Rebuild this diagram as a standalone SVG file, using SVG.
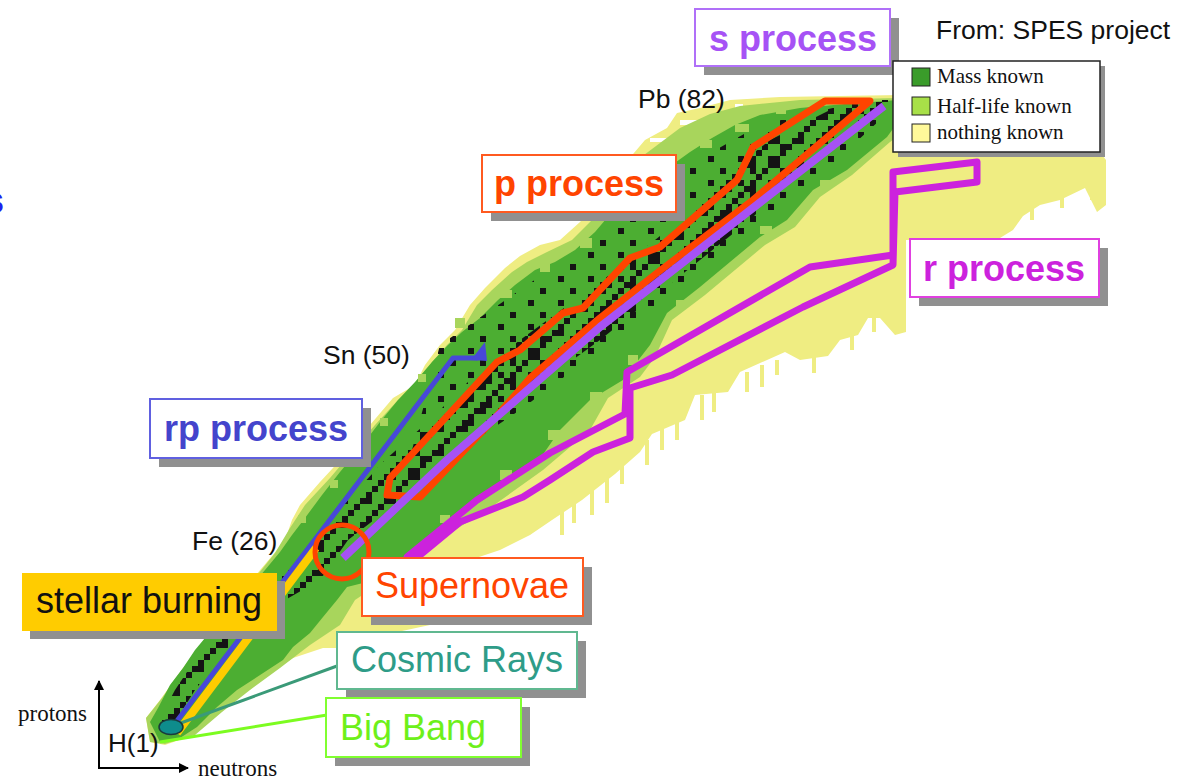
<svg xmlns="http://www.w3.org/2000/svg" width="1191" height="779" viewBox="0 0 1191 779">
<defs>
<style>
.sans{font-family:"Liberation Sans",Arial,sans-serif}
.serif{font-family:"Liberation Serif","Times New Roman",serif}
.big{font-size:36px}
.bold{font-weight:bold}
.lab{font-size:26.5px;fill:#111}
.shadow{fill:#909090}
.box{fill:#fff;stroke-width:2}
.leg{font-size:21px;fill:#111}
.lg{fill:#a8d55c}
.gr{fill:#4cae32}
</style>
<pattern id="stab" width="24" height="24" patternUnits="userSpaceOnUse">
<rect x="0" y="18" width="12" height="6" fill="#141414"/>
<rect x="6" y="12" width="6" height="6" fill="#141414"/>
<rect x="18" y="0" width="6" height="6" fill="#141414"/>
<rect x="12" y="6" width="6" height="6" fill="#141414"/>
</pattern>
<pattern id="sparse" width="30" height="24" patternUnits="userSpaceOnUse">
<rect x="0" y="0" width="6" height="6" fill="#141414"/>
<rect x="18" y="12" width="6" height="6" fill="#141414"/>
</pattern>
<marker id="ah" viewBox="0 0 10 10" refX="9" refY="5" markerWidth="5" markerHeight="5" orient="auto">
<path d="M0,0 L10,5 L0,10 Z" fill="#000"/>
</marker>
</defs>
<rect width="1191" height="779" fill="#fff"/>

<g id="chart">
<polygon fill="#efed82" points="150,742 146,718 160,700 180,672 200,645 225,612 250,582 272,556 285,540 292,520 300,505 320,482 345,455 370,425 393,398 415,385 425,365 440,345 455,330 470,305 485,288 505,268 520,256 540,245 560,240 580,222 595,205 610,180 628,160 645,140 667,128 677,113 700,108 730,100 780,97 900,95 900,152 1100,152 1106,160 1106,205 1097,212 1085,188 1060,200 1040,205 1023,216 1013,230 1000,238 906,240 906,332 895,335 880,318 868,318 858,335 840,340 828,356 800,360 785,352 740,372 728,392 695,395 685,420 652,434 640,452 615,474 582,500 552,520 530,535 500,550 470,560 480,600 430,625 360,640 340,648 323,648 293,658 262,678 232,703 205,722 185,738 165,745"/>
<g fill="#efed82">
<rect x="560" y="505" width="4" height="30"/><rect x="572" y="498" width="4" height="25"/><rect x="590" y="485" width="4" height="30"/><rect x="605" y="475" width="4" height="28"/><rect x="620" y="462" width="4" height="22"/><rect x="645" y="440" width="4" height="25"/><rect x="660" y="428" width="4" height="22"/><rect x="675" y="420" width="4" height="20"/><rect x="700" y="395" width="4" height="25"/><rect x="712" y="392" width="4" height="20"/><rect x="745" y="372" width="4" height="20"/><rect x="760" y="365" width="4" height="22"/><rect x="775" y="360" width="4" height="15"/><rect x="812" y="355" width="4" height="18"/><rect x="850" y="335" width="4" height="15"/><rect x="872" y="318" width="4" height="14"/>
<rect x="1030" y="196" width="4" height="24"/><rect x="1060" y="186" width="4" height="22"/><rect x="1090" y="170" width="4" height="30"/>
</g>
<g fill="#fff">
<rect x="680" y="120" width="50" height="5"/><rect x="650" y="138" width="40" height="4"/><rect x="735" y="104" width="8" height="4"/>
</g>
<polygon class="lg" points="150,742 146,718 162,698 182,670 205,640 230,608 255,578 275,553 290,528 305,505 330,478 352,452 375,425 398,400 420,385 432,362 447,345 462,330 477,305 492,290 512,272 527,262 547,252 572,240 592,220 607,195 622,175 640,158 660,143 680,128 710,114 740,106 800,100 900,98 900,135 890,142 852,175 820,197 795,227 765,245 705,295 672,320 655,357 640,377 608,398 590,430 543,470 490,508 455,530 425,552 400,570 355,600 340,625 310,645 280,668 250,690 222,712 195,735 165,744"/>
<polygon class="gr" points="150,722 158,708 170,685 183,668 195,650 210,632 228,612 248,590 265,570 280,552 292,535 305,518 322,495 340,472 360,448 380,422 398,400 415,382 432,362 448,345 462,332 480,318 498,300 515,285 535,270 555,262 575,250 595,232 612,212 630,195 648,182 665,170 690,152 712,138 735,125 760,115 800,108 845,104 898,100 898,122 887,137 847,170 813,190 787,220 760,237 700,287 667,313 650,345 623,380 590,400 560,430 537,463 483,500 455,518 430,540 405,560 375,580 347,587 337,600 323,617 310,633 293,647 283,660 257,677 237,690 217,707 197,727 180,738 160,742"/>
<g class="lg">
<rect x="455" y="318" width="10" height="10"/><rect x="500" y="290" width="12" height="8"/><rect x="540" y="262" width="10" height="10"/><rect x="580" y="238" width="12" height="10"/><rect x="625" y="196" width="10" height="12"/><rect x="660" y="170" width="14" height="8"/><rect x="700" y="140" width="12" height="8"/><rect x="735" y="124" width="14" height="8"/><rect x="776" y="108" width="10" height="6"/>
<rect x="418" y="374" width="8" height="8"/><rect x="380" y="418" width="8" height="8"/><rect x="330" y="480" width="8" height="8"/><rect x="298" y="515" width="8" height="8"/><rect x="256" y="575" width="8" height="8"/>
<rect x="548" y="430" width="12" height="10"/><rect x="590" y="392" width="12" height="8"/><rect x="628" y="355" width="10" height="10"/><rect x="676" y="300" width="12" height="8"/><rect x="760" y="226" width="12" height="8"/><rect x="820" y="180" width="10" height="8"/><rect x="500" y="470" width="12" height="10"/><rect x="440" y="515" width="10" height="8"/>
</g>
<polygon fill="url(#sparse)" points="440,345 520,290 600,235 680,170 760,125 850,104 880,120 820,175 760,228 700,276 640,320 580,365 520,410 460,450 400,495"/>
<polygon fill="url(#stab)" points="158,722 175,690 195,660 225,620 278,580 313,540 348,500 385,460 430,420 470,380 520,340 575,300 630,260 680,220 720,180 770,140 830,110 860,100 895,100 880,110 835,140 790,180 750,220 700,260 650,300 600,340 545,380 490,420 440,460 400,500 348,540 320,580 250,620 218,660 195,690 175,722"/>
<text class="sans lab" x="638" y="108">Pb (82)</text>
<text class="sans lab" x="323" y="364">Sn (50)</text>
<text class="sans lab" x="192" y="550">Fe (26)</text>
</g>

<g id="connectors" fill="none" stroke-linejoin="round">
<path d="M407,557 L477,500 L550,453 L625,414 L627,372 L810,267 L893,255 L893,172 L977,162 L977,182 L895,192 L893,265 L803,307 L672,375 L630,388 L630,438 L593,452 L550,480 L523,497 L460,522 L420,555 Z" stroke="#cc22dd" stroke-width="7"/>
<path d="M387,495 L390,478 L497,362 L520,350 L563,313 L583,308 L630,258 L660,247 L737,180 L753,147 L825,101 L870,101 L753,200 L657,273 L600,318 L530,378 L493,420 L420,497 Z" stroke="#ff4400" stroke-width="7"/>
<path d="M343,558 L447,460 L600,327 L884,106" stroke="#a652f5" stroke-width="8"/>
<path d="M167,734 L453,358 L478,358" stroke="#4848d8" stroke-width="5"/>
<polygon points="471,360 485,342 487,361" fill="#4848d8"/>
<path d="M177,733 L316,548" stroke="#ffcc00" stroke-width="8"/>
<circle cx="342" cy="552" r="27" stroke="#ff4400" stroke-width="5"/>
<path d="M178,724 L337,666" stroke="#3a9a78" stroke-width="3"/>
<path d="M160,742 L327,715" stroke="#7cfc20" stroke-width="3"/>
<path d="M99,769 L99,681" stroke="#000" stroke-width="2" marker-end="url(#ah)"/>
<path d="M98,768 L188,768" stroke="#000" stroke-width="2" marker-end="url(#ah)"/>
</g>

<g id="hydrogen">
<ellipse cx="171" cy="727" rx="12" ry="7.5" fill="#0e8c8c" stroke="#1a3a3a" stroke-width="1.5"/>
<text class="sans" x="108" y="752" font-size="26" fill="#111">H(1)</text>
</g>

<g id="axes">
<text class="serif" x="18" y="721" font-size="23" fill="#111">protons</text>
<text class="serif" x="198" y="776" font-size="23" fill="#111">neutrons</text>
</g>

<g id="s-process">
<rect class="shadow" x="704" y="18" width="195" height="57"/>
<rect class="box" x="695" y="9" width="195" height="57" stroke="#b070f8"/>
<text class="sans big bold" x="793" y="51" text-anchor="middle" fill="#a652f5">s process</text>
</g>

<g id="p-process">
<rect class="shadow" x="491" y="164" width="194" height="57"/>
<rect class="box" x="482" y="155" width="194" height="57" stroke="#ff5a20"/>
<text class="sans big bold" x="579" y="196" text-anchor="middle" fill="#ff4400">p process</text>
</g>

<g id="r-process">
<rect class="shadow" x="919" y="248" width="189" height="58"/>
<rect class="box" x="910" y="239" width="189" height="58" stroke="#e040e0"/>
<text class="sans big bold" x="1004" y="281" text-anchor="middle" fill="#cc22dd">r process</text>
</g>

<g id="rp-process">
<rect class="shadow" x="159" y="408" width="212" height="59"/>
<rect class="box" x="150" y="399" width="212" height="59" stroke="#6060e0"/>
<text class="sans big bold" x="256" y="441" text-anchor="middle" fill="#4444cc">rp process</text>
</g>

<g id="stellar-burning">
<rect class="shadow" x="30" y="581" width="255" height="58"/>
<rect x="22" y="573" width="255" height="58" fill="#ffcc00"/>
<text class="sans big" x="149" y="613" text-anchor="middle" fill="#111">stellar burning</text>
</g>

<g id="supernovae">
<rect class="shadow" x="371" y="567" width="221" height="58"/>
<rect class="box" x="362" y="558" width="221" height="58" stroke="#ff5a20"/>
<text class="sans big" x="472" y="598" text-anchor="middle" fill="#ff4400">Supernovae</text>
</g>

<g id="cosmic-rays">
<rect class="shadow" x="346" y="641" width="240" height="57"/>
<rect class="box" x="337" y="632" width="240" height="57" stroke="#60b890"/>
<text class="sans big" x="457" y="672" text-anchor="middle" fill="#2e9c88">Cosmic Rays</text>
</g>

<g id="big-bang">
<rect class="shadow" x="335" y="707" width="195" height="59"/>
<rect class="box" x="326" y="698" width="195" height="59" stroke="#80ff30"/>
<text class="sans big" x="413" y="740" text-anchor="middle" fill="#6ef01a">Big Bang</text>
</g>

<g id="legend">
<rect class="shadow" x="898" y="66" width="207" height="91"/>
<rect x="893" y="61" width="207" height="91" fill="#fff" stroke="#222" stroke-width="1.5"/>
<rect x="912" y="68" width="18" height="18" fill="#3a9c2a" stroke="#222" stroke-width="1"/>
<rect x="912" y="97" width="18" height="18" fill="#a8e048" stroke="#222" stroke-width="1"/>
<rect x="912" y="124" width="18" height="18" fill="#fff99a" stroke="#222" stroke-width="1"/>
<text class="serif leg" x="937" y="83">Mass known</text>
<text class="serif leg" x="937" y="113">Half-life known</text>
<text class="serif leg" x="937" y="139">nothing known</text>
</g>

<g id="source">
<text class="sans" x="936" y="39" font-size="26.5" fill="#111">From: SPES project</text>
</g>
<text class="sans bold" x="-16" y="213" font-size="36" fill="#2020ee">s</text>
</svg>
